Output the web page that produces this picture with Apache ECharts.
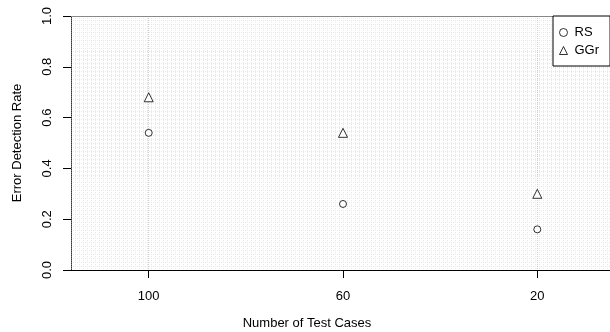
<!DOCTYPE html>
<html>
<head>
<meta charset="utf-8">
<script src="https://cdn.jsdelivr.net/npm/echarts@6.0.0/dist/echarts.min.js"></script>
<style>
html, body { margin: 0; padding: 0; background: #fff; }
#errChart { width: 610px; height: 332px; }
</style>
</head>
<body>
<div id="errChart"></div>
<script>
// test case counts (x axis categories)
var testCases = ['100', '60', '20'];
// error detection rate per series
var rsRate = [0.54, 0.26, 0.16];
var ggrRate = [0.68, 0.54, 0.30];

var errChart;

function toPoints(vals) {
    var pts = [];
    for (var i = 0; i < vals.length; i++) {
        pts.push([i, vals[i]]);
    }
    return pts;
}

function initErrChart() {
    errChart = echarts.init(document.getElementById('errChart'));
    var fontFam = '"Liberation Sans", Arial, sans-serif';
    var gridLine = { color: '#e8e8e8', width: 1, type: [1, 1] };
    var option = {
        animation: false,
        textStyle: { fontFamily: fontFam },
        grid: { left: 71, top: 16, width: 544, height: 254, outerBoundsMode: 'none', containLabel: false },
        legend: {
            orient: 'vertical',
            left: 553,
            top: 16,
            width: 54,
            padding: [10, 11, 9, 6],
            itemGap: 5,
            itemWidth: 8,
            itemHeight: 8,
            backgroundColor: '#fff',
            borderColor: '#000',
            borderWidth: 1,
            borderRadius: 0,
            itemStyle: { borderWidth: 1 },
            textStyle: { fontSize: 13, color: '#000', fontFamily: fontFam, padding: [0, 0, 0, 2] },
            data: ['RS', 'GGr']
        },
        xAxis: [{
            type: 'value',
            min: -0.4,
            max: 2.4,
            position: 'bottom',
            axisLine: { show: true, onZero: false, lineStyle: { color: '#000', width: 1 } },
            axisTick: { show: true, length: 8, customValues: [0, 1, 2], lineStyle: { color: '#000' } },
            axisLabel: {
                show: true,
                customValues: [0, 1, 2],
                margin: 20,
                fontSize: 13,
                color: '#000',
                formatter: function (v) { return testCases[Math.round(v)]; }
            },
            splitLine: { show: true, lineStyle: { color: '#d0d0d0', width: 1, type: [1, 1] } },
            name: 'Number of Test Cases',
            nameLocation: 'middle',
            nameGap: 47,
            nameTextStyle: { fontSize: 13, color: '#000', padding: [0, 72, 0, 0] }
        }, {
            // 背景细网格
            type: 'value',
            min: 0,
            max: 136,
            interval: 1,
            position: 'top',
            axisLine: { show: true, onZero: false, lineStyle: { color: '#888', width: 1 } },
            axisTick: { show: false },
            axisLabel: { show: false },
            splitLine: { show: true, lineStyle: gridLine }
        }],
        yAxis: [{
            type: 'value',
            min: 0,
            max: 1,
            interval: 0.2,
            position: 'left',
            axisLine: { show: true, onZero: false, lineStyle: { color: '#333', width: 1, type: [1, 1] } },
            axisTick: { show: true, length: 8, lineStyle: { color: '#000' } },
            axisLabel: {
                rotate: 90,
                margin: 17,
                fontSize: 13,
                color: '#000',
                formatter: function (v) { return v.toFixed(1); }
            },
            splitLine: { show: false },
            name: 'Error Detection Rate',
            nameLocation: 'middle',
            nameRotate: 90,
            nameGap: 47,
            nameTextStyle: { fontSize: 13, color: '#000' }
        }, {
            type: 'value',
            min: 0,
            max: 64,
            interval: 1,
            position: 'right',
            axisLine: { show: false },
            axisTick: { show: false },
            axisLabel: { show: false },
            splitLine: { show: true, lineStyle: gridLine }
        }],
        series: [{
            name: 'RS',
            type: 'scatter',
            xAxisIndex: 0,
            yAxisIndex: 0,
            symbol: 'circle',
            symbolSize: 7,
            itemStyle: { color: '#fff', borderColor: '#000', borderWidth: 1 },
            data: toPoints(rsRate)
        }, {
            name: 'GGr',
            type: 'scatter',
            xAxisIndex: 0,
            yAxisIndex: 0,
            symbol: 'triangle',
            symbolSize: 9,
            itemStyle: { color: '#fff', borderColor: '#000', borderWidth: 1 },
            data: toPoints(ggrRate)
        }]
    };
    errChart.setOption(option);
}

initErrChart();
</script>
</body>
</html>
